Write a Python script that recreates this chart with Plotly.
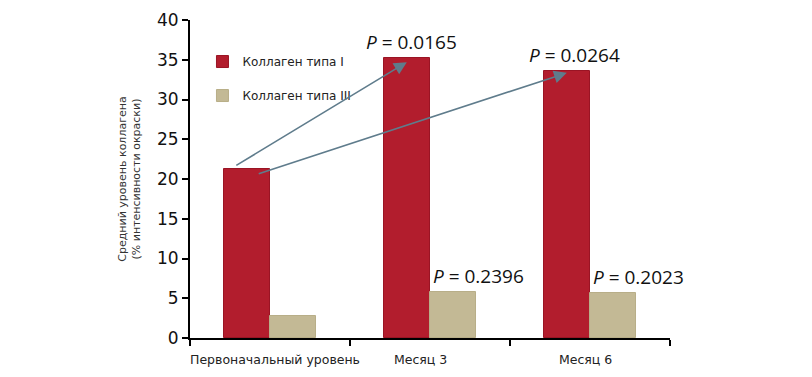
import plotly.graph_objects as go

categories = ["Первоначальный уровень", "Месяц 3", "Месяц 6"]
collagen_I = [21.3, 35.2, 33.6]
collagen_III = [2.8, 5.8, 5.6]
p_labels_I = ["P = 0.0165", "P = 0.0264"]
p_labels_III = ["P = 0.2396", "P = 0.2023"]
y_ticks = [0, 5, 10, 15, 20, 25, 30, 35, 40]

RED = "#B21D2D"
TAN = "#C3B995"
ARROW = "#5F7C8C"

xs = list(range(len(categories)))
W = 0.29

fig = go.Figure()
fig.add_trace(go.Bar(
    x=[x - W / 2 for x in xs], y=collagen_I, width=W, name="Коллаген типа I",
    marker=dict(color=RED, line=dict(color="#9A1424", width=1)), legendgroup="a"))
fig.add_trace(go.Bar(
    x=[x + W / 2 for x in xs], y=collagen_III, width=W, name="Коллаген типа III",
    marker=dict(color=TAN, line=dict(color="#B8AE88", width=1)), legendgroup="b"))

# arrows from baseline type I to months
starts = [(-0.22, collagen_I[0] + 0.3), (-0.08, collagen_I[0] - 0.7)]
for i, (sx, sy) in enumerate(starts):
    tx = xs[i + 1] - W / 2
    ty = collagen_I[i + 1] - 0.5 + (0 if i == 0 else 0.25)
    fig.add_annotation(x=tx, y=ty, ax=sx, ay=sy, xref="x", yref="y", axref="x", ayref="y",
                       showarrow=True, arrowhead=2, arrowsize=1.6, arrowwidth=1.6,
                       arrowcolor=ARROW, text="")

FONT_P = "Open Sans, Noto Sans, sans-serif"
p_dx_I = [0.03, 0.045]
for i, lab in enumerate(p_labels_I):
    fig.add_annotation(x=xs[i + 1] - W / 2 + p_dx_I[i], y=collagen_I[i + 1] + 0.15,
                       xref="x", yref="y", yanchor="bottom", showarrow=False,
                       text="<i>P</i>" + lab[1:],
                       font=dict(family=FONT_P, size=19, color="#111111"))
for i, lab in enumerate(p_labels_III):
    fig.add_annotation(x=xs[i + 1] + W / 2 + 0.16, y=collagen_III[i + 1] + 0.15,
                       xref="x", yref="y", yanchor="bottom", showarrow=False,
                       text="<i>P</i>" + lab[1:],
                       font=dict(family=FONT_P, size=19, color="#111111"))

label_pos = [0.03, -0.06, -0.03]
for i, c in enumerate(categories):
    fig.add_annotation(x=xs[i] + label_pos[i], y=0, xref="x", yref="paper", yshift=-31,
                       showarrow=False, text=c,
                       font=dict(family="DejaVu Sans, Verdana, sans-serif", size=12.5, color="#222222"))

fig.update_layout(
    width=812, height=377,
    margin=dict(l=182, r=150, t=12, b=47),
    plot_bgcolor="white", paper_bgcolor="white",
    bargap=0,
    showlegend=True,
    legend=dict(x=0.026, y=0.915, xanchor="left", yanchor="top", bgcolor="rgba(0,0,0,0)",
                font=dict(family="DejaVu Sans, Verdana, sans-serif", size=12, color="#222222"),
                tracegroupgap=15, traceorder="grouped", itemwidth=30),
    xaxis=dict(range=[-0.5, 2.5], tickvals=[-0.5, 0.5, 1.5, 2.5], ticktext=["", "", "", ""],
               showline=True, linecolor="black", linewidth=2, ticks="outside", automargin=False,
               ticklen=6, tickwidth=2, tickcolor="black", showgrid=False, zeroline=False),
    yaxis=dict(range=[0, 40], tickvals=y_ticks, showline=True, linecolor="black", linewidth=2,
               ticks="outside", ticklen=6, tickwidth=2, tickcolor="black", showgrid=False,
               zeroline=False, automargin=False,
               tickfont=dict(family="DejaVu Sans, Verdana, sans-serif", size=17, color="#111111"),
               title=dict(text="Средний уровень коллагена<br>(% интенсивности окраски)",
                          font=dict(family="DejaVu Sans, Verdana, sans-serif", size=11, color="#333333"),
                          standoff=14)),
)

fig.write_html("out.html")
